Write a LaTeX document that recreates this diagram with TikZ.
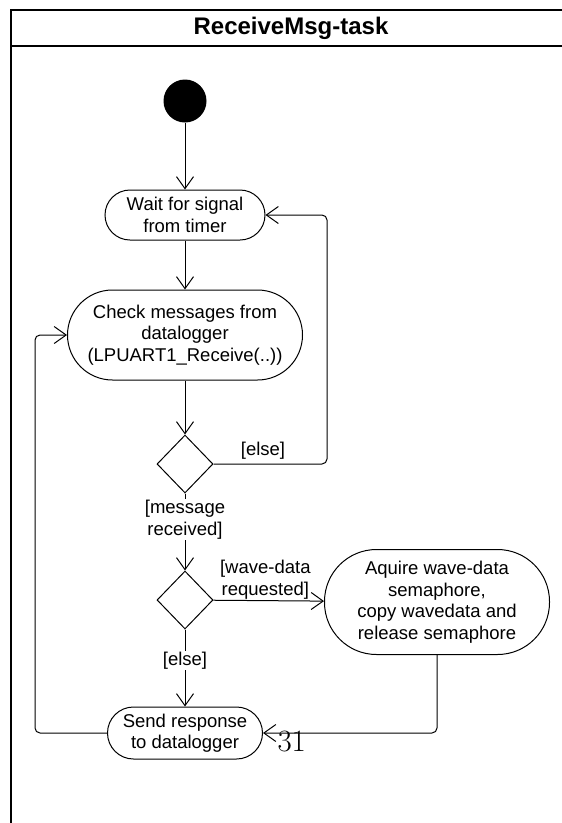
\documentclass[tikz,border=0pt]{standalone}
\usepackage{fontspec}
\newfontfamily\arial{Liberation Sans}
\usetikzlibrary{arrows.meta,shapes.geometric}
\begin{document}
\begin{tikzpicture}[x=1pt,y=-1pt, line width=1pt,
  act/.style={draw, line width=1pt, align=center, inner sep=0pt,
    font=\arial\fontsize{18.5}{21.5}\selectfont},
  dec/.style={draw, diamond, aspect=1, line width=1pt, inner sep=0pt,
    minimum width=56pt, minimum height=58pt},
  lbl/.style={align=center, inner sep=1pt, font=\arial\fontsize{18.5}{21.5}\selectfont},
  arr/.style={-{Straight Barb[length=12pt,width=17pt,line width=1pt]}}]
\useasboundingbox (0,0) rectangle (562,823);
\clip (0,0) rectangle (562,823);
\fill[white] (0,0) rectangle (562,823);
% frame
\draw[line width=1.3pt] (11,10) rectangle (571,900);
\draw[line width=1.3pt] (11,46) -- (571,46);
\node[font=\arial\bfseries\fontsize{24}{28}\selectfont] (title) at (291,28) {ReceiveMsg-task};
% nodes
\node[circle, fill=black, minimum size=43pt, inner sep=0pt] (start) at (185,101) {};
\node[act, minimum width=160pt, minimum height=50pt, rounded corners=25pt] (wait) at (185,215) {Wait for signal\\from timer};
\node[act, minimum width=235pt, minimum height=90pt, rounded corners=45pt] (check) at (185,335) {Check messages from\\datalogger\\(LPUART1\_Receive(..))};
\node[dec] (d1) at (185,464) {};
\node[dec] (d2) at (185,600) {};
\node[act, minimum width=225pt, minimum height=105pt, rounded corners=52pt] (acq) at (437,602) {Aquire wave-data\\semaphore,\\copy wavedata and\\release semaphore};
\node[act, minimum width=155pt, minimum height=52pt, rounded corners=26pt] (send) at (185,733) {Send response\\to datalogger};
\coordinate (r1) at (327,215);
\coordinate (l2) at (35,335);
% connectors
\draw[arr] (start) -- (wait);
\draw[arr] (wait) -- (check);
\draw[arr] (check) -- (d1);
\draw[arr, rounded corners=5pt] (d1.east) -| (r1) -- (wait.east);
\node[lbl] (else1) at (263,451) {[else]};
\draw[arr] (d1) -- node[lbl, fill=white, pos=0.34] (msg) {[message\\received]} (d2);
\draw[arr] (d2) -- node[lbl, above, pos=0.47] (wave) {[wave-data\\requested]} (acq);
\draw[arr] (d2) -- node[lbl, fill=white, pos=0.4] (else2) {[else]} (send);
\draw[arr, rounded corners=5pt] (acq.south) |- (send.east);
\draw[arr, rounded corners=5pt] (send.west) -| (l2) -- (check.west);
\node[font=\fontsize{31}{31}\selectfont, anchor=base west, inner sep=0pt] (pg) at (277,751) {31};
\end{tikzpicture}
\end{document}
